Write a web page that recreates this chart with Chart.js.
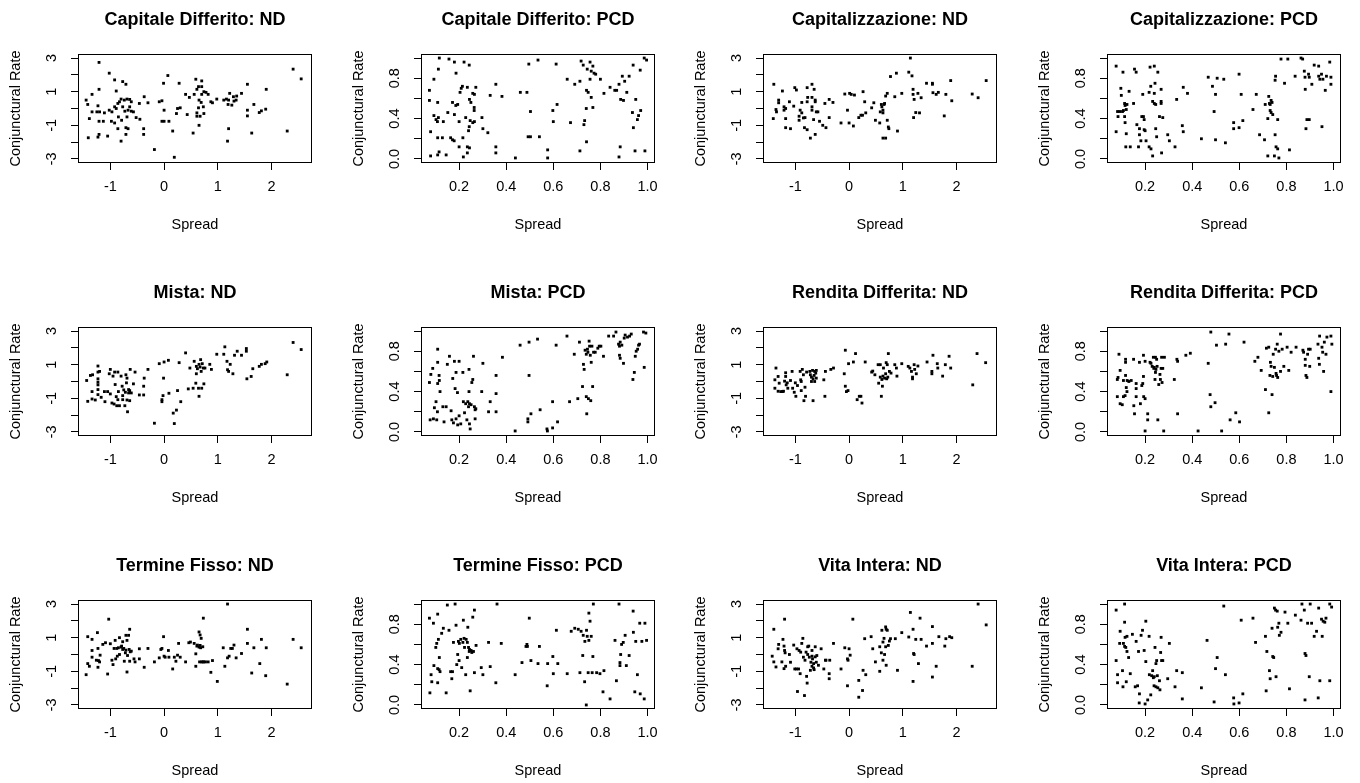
<!DOCTYPE html>
<html>
<head>
<meta charset="utf-8">
<script src="https://cdn.jsdelivr.net/npm/chart.js@4.4.1/dist/chart.umd.min.js"></script>
<style>
html, body { margin: 0; padding: 0; background: #fff; overflow: hidden; }
body { width: 1360px; height: 783px; position: relative; }
canvas { position: absolute; }
</style>
</head>
<body>
<script>
// panel titles, row by row
const titles = [
    'Capitale Differito: ND', 'Capitale Differito: PCD', 'Capitalizzazione: ND', 'Capitalizzazione: PCD',
    'Mista: ND', 'Mista: PCD', 'Rendita Differita: ND', 'Rendita Differita: PCD',
    'Termine Fisso: ND', 'Termine Fisso: PCD', 'Vita Intera: ND', 'Vita Intera: PCD'
];

// axis ranges (before R's 4% extension) and tick values
const ndXRange = [-1.44, 2.59];
const ndYRange = [-3, 3];
const pcdXRange = [0.075, 0.995];
const pcdYRange = [0, 1];
const ndXTicks = [-1, 0, 1, 2];
const ndYTicks = [-3, -2, -1, 0, 1, 2, 3];
const pcdXTicks = [0.2, 0.4, 0.6, 0.8, 1.0];
const pcdYTicks = [0, 0.2, 0.4, 0.6, 0.8, 1.0];

// [spread, conjunctural rate]
const capDiffND = [[-1.21,2.74],[-1.02,2.1],[-0.92,1.7],[-0.77,1.6],[-0.71,1.44],[-1.21,1.14],[-0.89,1.04],[-1.34,0.84],[-1.45,0.5],[-1.42,0.24],[-1.23,0.16],[-1.34,-0.2],[-1.25,-0.2],[-1.2,-0.2],[-1.39,-0.6],[-1.21,-0.76],[-1.13,-0.76],[-1.41,-1.74],[-1.23,-1.7],[-1.21,-1.54],[-1.05,-1.64],[-1.11,-0.26],[-1.02,-0.1],[-0.97,-0.2],[-0.98,-0.76],[-0.92,-0.86],[-0.86,-1.2],[-0.92,0.1],[-0.89,0],[-0.86,0.3],[-0.83,0.4],[-0.8,0.56],[-0.74,0.5],[-0.69,0.56],[-0.64,0.54],[-0.61,0.4],[-0.77,0.1],[-0.73,-0.16],[-0.67,-0.1],[-0.64,0.1],[-0.61,-0.16],[-0.57,-0.2],[-0.69,-0.5],[-0.79,-0.7],[-0.71,-1.14],[-0.67,-1.2],[-0.8,-1.94],[-0.71,-1.54],[-0.85,-0.5],[-0.52,-0.54],[-0.45,-0.64],[-0.46,0.3],[-0.38,-1.2],[-0.38,-1.54],[-0.37,0.7],[-0.3,0.34],[-0.18,-2.44],[-0.09,0.4],[-0.04,0.46],[-0.01,1.5],[0,-0.1],[-0.04,-0.76],[0,-0.76],[0.07,1.96],[0.09,-0.76],[0.16,-1.34],[0.19,-2.9],[0.23,-0.3],[0.25,0],[0.3,0.04],[0.28,1.5],[0.4,0.84],[0.43,-0.36],[0.47,0.66],[0.54,-1.46],[0.56,0.84],[0.59,1.74],[0.61,1.14],[0.64,1.3],[0.65,0.5],[0.69,0.36],[0.64,0.04],[0.61,-0.26],[0.61,-0.46],[0.67,-0.46],[0.65,-1.0],[0.7,1.64],[0.7,1.3],[0.7,0.84],[0.74,1.0],[0.78,0.96],[0.73,0.1],[0.74,-0.3],[0.82,0.84],[0.87,0.4],[0.9,0.34],[0.98,0.56],[1.11,0.5],[1.16,0.56],[1.19,0.24],[1.22,0.9],[1.2,0.5],[1.26,0.2],[1.29,0.7],[1.3,0.44],[1.34,0.5],[1.35,0.74],[1.44,0.9],[1.2,-1.2],[1.18,-1.94],[1.55,1.44],[1.55,-0.1],[1.55,-0.44],[1.63,-1.46],[1.67,0.24],[1.77,-0.24],[1.81,-0.14],[1.89,-0.04],[1.9,1.14],[2.29,-1.34],[2.4,2.34],[2.55,1.76]];

const capDiffPCD = [[0.116,1.0],[0.157,0.99],[0.18,0.96],[0.221,0.96],[0.243,0.93],[0.112,0.89],[0.187,0.85],[0.093,0.79],[0.074,0.68],[0.074,0.58],[0.109,0.56],[0.172,0.56],[0.186,0.53],[0.194,0.54],[0.209,0.7],[0.214,0.72],[0.204,0.66],[0.235,0.71],[0.244,0.59],[0.25,0.56],[0.258,0.65],[0.265,0.64],[0.271,0.71],[0.264,0.51],[0.264,0.48],[0.093,0.43],[0.102,0.39],[0.112,0.41],[0.108,0.37],[0.133,0.37],[0.152,0.46],[0.18,0.44],[0.2,0.37],[0.228,0.41],[0.247,0.38],[0.258,0.36],[0.265,0.37],[0.243,0.32],[0.24,0.28],[0.297,0.41],[0.301,0.3],[0.322,0.26],[0.332,0.63],[0.356,0.74],[0.382,0.62],[0.079,0.27],[0.109,0.21],[0.129,0.21],[0.164,0.21],[0.172,0.19],[0.179,0.18],[0.2,0.12],[0.216,0.21],[0.235,0.12],[0.244,0.11],[0.079,0.03],[0.109,0.04],[0.115,0.07],[0.145,0.04],[0.218,0.02],[0.235,0.06],[0.356,0.12],[0.356,0.06],[0.439,0.01],[0.46,0.66],[0.488,0.66],[0.496,0.94],[0.535,0.98],[0.503,0.47],[0.493,0.22],[0.503,0.22],[0.541,0.22],[0.576,0.09],[0.576,0.01],[0.598,0.48],[0.6,0.37],[0.616,0.54],[0.612,0.94],[0.659,0.79],[0.673,0.36],[0.691,0.74],[0.713,0.08],[0.718,0.97],[0.727,0.93],[0.713,0.77],[0.733,0.38],[0.73,0.34],[0.74,0.5],[0.741,0.17],[0.741,0.68],[0.748,0.66],[0.744,0.89],[0.756,0.96],[0.761,0.87],[0.768,0.92],[0.756,0.79],[0.773,0.85],[0.78,0.84],[0.761,0.61],[0.768,0.51],[0.8,0.79],[0.815,0.65],[0.841,0.71],[0.861,0.68],[0.869,0.68],[0.879,0.74],[0.893,0.82],[0.886,0.59],[0.898,0.58],[0.884,0.12],[0.879,0.02],[0.903,0.77],[0.912,0.66],[0.922,0.82],[0.939,0.93],[0.936,0.46],[0.94,0.31],[0.947,0.08],[0.95,0.59],[0.957,0.39],[0.962,0.43],[0.969,0.88],[0.971,0.48],[0.986,1.0],[0.996,0.98],[0.989,0.08]];

const capitND = [[-1.4,1.44],[-1.41,-0.6],[-1.36,-0.06],[-1.35,-0.2],[-1.31,0.5],[-1.31,0.34],[-1.24,1.04],[-1.21,0.1],[-1.21,-0.1],[-1.18,0],[-1.18,-0.6],[-1.18,-1.14],[-1.09,-1.2],[-1.11,0.4],[-1.03,0.14],[-1.01,1.24],[-0.98,1.1],[-0.93,-0.46],[-0.93,-0.7],[-0.91,-0.1],[-0.88,-0.26],[-0.85,-0.56],[-0.82,-0.54],[-0.88,0.36],[-0.78,1.24],[-0.77,0.66],[-0.78,0.4],[-0.83,-1.14],[-0.78,-1.26],[-0.72,-1.76],[-0.69,1.44],[-0.69,0.66],[-0.69,0.1],[-0.69,-0.1],[-0.66,-0.66],[-0.65,1.14],[-0.63,0.5],[-0.63,0.4],[-0.61,-0.2],[-0.58,-0.2],[-0.63,-1.54],[-0.55,-0.76],[-0.49,-1.0],[-0.45,0.3],[-0.43,-1.14],[-0.37,0.54],[-0.37,-0.54],[-0.3,0.36],[-0.15,-0.86],[-0.08,0.86],[-0.03,-0.1],[0,-0.86],[0.01,0.9],[0.04,0.84],[0.08,-1.04],[0.1,0.8],[0.26,1.0],[0.18,-0.54],[0.22,-0.4],[0.25,-0.4],[0.29,0.4],[0.31,-0.26],[0.42,0.04],[0.46,0.34],[0.49,-0.7],[0.57,-0.86],[0.58,-0.2],[0.6,0.24],[0.61,0.1],[0.63,-0.1],[0.63,-0.26],[0.65,0.24],[0.66,0.3],[0.63,-1.76],[0.68,-1.76],[0.68,0.74],[0.71,0.9],[0.71,-0.7],[0.73,-1.1],[0.74,-1.2],[0.77,1.9],[0.85,0.7],[0.88,2.1],[0.9,-1.34],[0.98,0.9],[1.11,2.16],[1.14,3.0],[1.17,1.94],[1.19,1.14],[1.19,0.84],[1.2,-0.54],[1.21,0.54],[1.24,-0.24],[1.28,0.9],[1.31,-0.26],[1.34,0.64],[1.44,1.5],[1.55,1.5],[1.55,1.44],[1.56,0.94],[1.62,0.84],[1.66,0.96],[1.77,-0.44],[1.8,0.84],[1.89,1.66],[1.91,0.46],[2.29,0.86],[2.4,0.64],[2.55,1.66]];

const capitPCD = [[0.077,0.92],[0.077,0.27],[0.083,0.47],[0.085,0.42],[0.092,0.47],[0.097,0.7],[0.099,0.63],[0.104,0.47],[0.106,0.86],[0.108,0.48],[0.113,0.55],[0.115,0.53],[0.113,0.42],[0.115,0.36],[0.12,0.49],[0.12,0.25],[0.118,0.12],[0.123,0.54],[0.132,0.67],[0.137,0.12],[0.151,0.55],[0.155,0.89],[0.162,0.86],[0.165,0.34],[0.172,0.12],[0.176,0.24],[0.176,0.3],[0.182,0.18],[0.186,0.42],[0.19,0.64],[0.193,0.42],[0.196,0.39],[0.196,0.29],[0.2,0.28],[0.204,0.18],[0.217,0.66],[0.217,0.12],[0.221,0.91],[0.224,0.72],[0.225,0.1],[0.232,0.03],[0.232,0.57],[0.239,0.92],[0.239,0.65],[0.239,0.55],[0.242,0.75],[0.245,0.54],[0.245,0.3],[0.249,0.22],[0.254,0.86],[0.261,0.42],[0.268,0.57],[0.268,0.55],[0.268,0.69],[0.27,0.06],[0.275,0.41],[0.296,0.24],[0.303,0.18],[0.327,0.12],[0.334,0.59],[0.358,0.33],[0.362,0.27],[0.362,0.71],[0.38,0.65],[0.439,0.2],[0.468,0.81],[0.486,0.72],[0.493,0.47],[0.499,0.19],[0.499,0.64],[0.506,0.8],[0.534,0.79],[0.541,0.16],[0.576,0.36],[0.576,0.3],[0.599,0.31],[0.599,0.84],[0.608,0.64],[0.615,0.38],[0.658,0.49],[0.672,0.64],[0.686,0.24],[0.707,0.19],[0.71,0.54],[0.721,0.4],[0.721,0.03],[0.725,0.62],[0.728,0.55],[0.731,0.48],[0.731,0.54],[0.735,0.46],[0.735,0.58],[0.739,0.56],[0.742,0.44],[0.749,0.03],[0.752,0.78],[0.752,0.24],[0.754,0.82],[0.756,0.12],[0.763,0.39],[0.763,0.1],[0.768,0.01],[0.777,0.99],[0.792,0.75],[0.806,0.99],[0.813,0.09],[0.837,0.82],[0.862,1.0],[0.869,0.99],[0.876,0.87],[0.879,0.81],[0.88,0.69],[0.883,0.3],[0.887,0.39],[0.894,0.84],[0.897,0.39],[0.897,0.81],[0.908,0.74],[0.918,0.93],[0.937,0.92],[0.937,0.82],[0.942,0.79],[0.949,0.84],[0.951,0.32],[0.955,0.79],[0.965,0.68],[0.97,0.82],[0.984,0.96],[0.989,0.74],[0.989,0.81]];

const mistaND = [[-1.44,0.06],[-1.42,-1.18],[-1.37,0.36],[-1.34,-0.6],[-1.34,-1.04],[-1.33,0.4],[-1.28,-1.1],[-1.23,0.92],[-1.23,0.56],[-1.23,0.16],[-1.23,-0.04],[-1.23,-0.2],[-1.23,-0.48],[-1.23,-0.78],[-1.2,0.6],[-1.17,-0.94],[-1.11,-0.6],[-1.1,-1.2],[-1.05,-0.6],[-1.02,0.46],[-1.0,0.72],[-1.0,-0.74],[-0.97,-1.28],[-0.95,0.32],[-0.93,-1.34],[-0.92,0.56],[-0.91,-0.18],[-0.89,-0.9],[-0.88,-1.44],[-0.86,0.56],[-0.86,-1.08],[-0.85,-0.6],[-0.83,-1.44],[-0.8,0.32],[-0.78,-0.28],[-0.77,-1.08],[-0.77,-0.84],[-0.75,-0.5],[-0.73,-1.44],[-0.72,-0.64],[-0.71,0.4],[-0.69,0.2],[-0.7,-0.08],[-0.69,-1.1],[-0.68,-1.8],[-0.66,-0.48],[-0.66,-0.68],[-0.64,-0.54],[-0.63,0.72],[-0.64,-1.14],[-0.61,-0.68],[-0.57,-0.14],[-0.54,0.56],[-0.46,-0.8],[-0.38,-0.8],[-0.38,-0.28],[-0.37,0.2],[-0.3,0.72],[-0.18,-2.48],[-0.09,1.06],[-0.04,-1.08],[-0.04,-1.2],[-0.02,-0.84],[-0.01,0.2],[0,1.16],[0.08,1.26],[0.09,-0.7],[0.17,-1.88],[0.19,-2.5],[0.23,-1.7],[0.25,-0.54],[0.28,1.12],[0.31,-1.2],[0.4,1.7],[0.45,-0.44],[0.48,0.8],[0.54,-0.4],[0.56,1.2],[0.59,-0.1],[0.6,0.46],[0.6,0.9],[0.62,0.76],[0.64,-0.4],[0.65,-0.88],[0.65,1.02],[0.67,0.86],[0.68,1.3],[0.69,0.6],[0.7,-0.4],[0.71,1.06],[0.73,0.8],[0.74,-0.14],[0.76,0.8],[0.85,1.02],[0.88,0.72],[0.98,1.62],[1.11,1.62],[1.13,2.06],[1.17,1.2],[1.18,0.7],[1.2,0.6],[1.23,1.02],[1.28,0.46],[1.31,1.56],[1.36,1.8],[1.44,1.56],[1.53,1.96],[1.53,1.8],[1.54,0.16],[1.62,0.3],[1.65,0.76],[1.77,0.9],[1.81,1.02],[1.88,1.06],[1.91,1.16],[2.29,0.4],[2.4,2.32],[2.55,1.9]];

const mistaPCD = [[0.074,0.49],[0.08,0.57],[0.077,0.12],[0.088,0.63],[0.091,0.13],[0.095,0.24],[0.102,0.3],[0.105,0.12],[0.108,0.2],[0.109,0.82],[0.109,0.69],[0.109,0.48],[0.115,0.56],[0.116,0.51],[0.119,0.4],[0.131,0.25],[0.136,0.1],[0.145,0.25],[0.15,0.67],[0.159,0.75],[0.166,0.21],[0.169,0.12],[0.173,0.53],[0.176,0.09],[0.18,0.7],[0.183,0.43],[0.187,0.59],[0.187,0.13],[0.193,0.39],[0.194,0.07],[0.2,0.7],[0.2,0.16],[0.207,0.08],[0.216,0.59],[0.218,0.3],[0.223,0.19],[0.228,0.28],[0.233,0.12],[0.237,0.3],[0.24,0.25],[0.242,0.62],[0.242,0.4],[0.244,0.28],[0.244,0.08],[0.247,0.03],[0.251,0.27],[0.254,0.49],[0.258,0.52],[0.261,0.75],[0.265,0.25],[0.268,0.22],[0.268,0.13],[0.271,0.23],[0.296,0.4],[0.301,0.68],[0.325,0.2],[0.332,0.3],[0.357,0.56],[0.357,0.38],[0.357,0.2],[0.384,0.74],[0.438,0.01],[0.459,0.86],[0.492,0.13],[0.492,0.1],[0.497,0.89],[0.497,0.56],[0.505,0.18],[0.533,0.92],[0.544,0.22],[0.573,0.03],[0.575,0.01],[0.597,0.3],[0.597,0.04],[0.612,0.86],[0.618,0.1],[0.658,0.95],[0.669,0.3],[0.689,0.77],[0.704,0.33],[0.711,0.89],[0.724,0.45],[0.728,0.67],[0.731,0.62],[0.735,0.81],[0.74,0.77],[0.74,0.35],[0.742,0.18],[0.745,0.82],[0.747,0.79],[0.749,0.33],[0.752,0.9],[0.754,0.85],[0.757,0.76],[0.759,0.31],[0.761,0.69],[0.764,0.85],[0.767,0.45],[0.771,0.79],[0.778,0.79],[0.789,0.83],[0.795,0.85],[0.802,0.85],[0.813,0.75],[0.835,0.95],[0.856,0.95],[0.866,0.99],[0.877,0.87],[0.881,0.85],[0.884,0.89],[0.891,0.86],[0.881,0.76],[0.884,0.73],[0.898,0.68],[0.901,0.93],[0.905,0.96],[0.915,0.94],[0.924,0.95],[0.931,0.97],[0.938,0.52],[0.944,0.59],[0.948,0.75],[0.952,0.8],[0.958,0.82],[0.962,0.86],[0.966,0.87],[0.983,0.99],[0.986,0.64],[0.993,0.98]];

const renditaND = [[-1.38,0.1],[-1.38,-0.4],[-1.36,0.8],[-1.32,0.3],[-1.32,-0.58],[-1.3,-0.1],[-1.27,-0.6],[-1.24,-0.6],[-1.22,-0.58],[-1.2,0.02],[-1.18,0.52],[-1.18,0.3],[-1.17,-0.2],[-1.15,-0.08],[-1.14,-0.4],[-1.09,0.06],[-1.06,0.6],[-1.05,-0.4],[-1.02,-0.64],[-1.0,-0.08],[-0.99,-0.88],[-0.96,-0.24],[-0.91,0.6],[-0.9,0.1],[-0.89,0],[-0.89,-0.54],[-0.87,0.72],[-0.85,0.4],[-0.84,-1.14],[-0.82,-0.34],[-0.81,-0.88],[-0.79,0.56],[-0.73,0.6],[-0.72,0.4],[-0.7,0.26],[-0.7,0],[-0.68,0.66],[-0.67,-1.14],[-0.67,0.16],[-0.65,0.36],[-0.64,0.6],[-0.64,0],[-0.62,0.5],[-0.61,0.66],[-0.61,0.2],[-0.47,0.1],[-0.45,-0.88],[-0.44,0.6],[-0.34,0.72],[-0.29,0.8],[-0.09,0.46],[-0.07,1.86],[-0.07,-0.28],[-0.05,-0.6],[-0.02,-0.54],[-0.01,1.06],[0.08,1.16],[0.12,1.66],[0.15,-1.08],[0.19,-0.88],[0.22,-0.88],[0.24,-1.28],[0.3,1.16],[0.42,0.56],[0.44,0.62],[0.48,0.4],[0.54,1.0],[0.55,-0.1],[0.58,1.0],[0.58,0.26],[0.6,-0.88],[0.61,0.12],[0.62,-0.28],[0.63,0.32],[0.64,0.8],[0.66,0.2],[0.68,0.46],[0.69,1.12],[0.7,0.16],[0.71,1.0],[0.72,0.26],[0.73,1.66],[0.75,0.6],[0.78,0.5],[0.85,1.0],[0.88,0.8],[0.89,0.32],[0.98,1.06],[1.1,0.9],[1.13,0.8],[1.16,0.6],[1.18,0.26],[1.18,0.16],[1.21,1.0],[1.22,0.72],[1.25,0.46],[1.28,0.92],[1.45,1.16],[1.54,0.6],[1.54,0.46],[1.56,1.56],[1.64,1.06],[1.65,0.8],[1.74,0.32],[1.79,1.0],[1.86,1.5],[1.89,0.8],[2.3,-0.2],[2.38,1.66],[2.54,1.12]];

const renditaPCD = [[0.082,0.35],[0.082,0.52],[0.085,0.54],[0.089,0.77],[0.094,0.61],[0.094,0.28],[0.103,0.27],[0.108,0.51],[0.108,0.35],[0.115,0.36],[0.117,0.72],[0.117,0.69],[0.117,0.56],[0.12,0.44],[0.123,0.4],[0.124,0.51],[0.131,0.5],[0.141,0.51],[0.151,0.72],[0.152,0.26],[0.155,0.18],[0.162,0.48],[0.162,0.43],[0.162,0.35],[0.176,0.69],[0.18,0.28],[0.186,0.46],[0.19,0.48],[0.193,0.76],[0.193,0.55],[0.194,0.35],[0.2,0.7],[0.2,0.33],[0.2,0.01],[0.211,0.18],[0.211,0.12],[0.221,0.69],[0.225,0.68],[0.23,0.65],[0.235,0.74],[0.237,0.63],[0.239,0.64],[0.242,0.52],[0.244,0.74],[0.244,0.59],[0.246,0.62],[0.249,0.72],[0.251,0.65],[0.254,0.12],[0.258,0.47],[0.263,0.57],[0.265,0.52],[0.268,0.63],[0.27,0.74],[0.272,0.49],[0.275,0.63],[0.279,0.01],[0.282,0.74],[0.324,0.52],[0.335,0.72],[0.338,0.18],[0.338,0.7],[0.373,0.76],[0.392,0.78],[0.425,0.01],[0.468,0.68],[0.476,0.37],[0.479,0.99],[0.479,0.25],[0.497,0.29],[0.503,0.86],[0.525,0.01],[0.542,0.87],[0.556,0.97],[0.561,0.12],[0.585,0.19],[0.601,0.1],[0.62,0.89],[0.666,0.7],[0.679,0.74],[0.693,0.61],[0.711,0.42],[0.715,0.83],[0.725,0.84],[0.725,0.19],[0.73,0.56],[0.732,0.69],[0.735,0.65],[0.739,0.37],[0.742,0.55],[0.744,0.77],[0.749,0.64],[0.754,0.82],[0.756,0.58],[0.758,0.56],[0.761,0.87],[0.763,0.54],[0.768,0.8],[0.775,0.97],[0.775,0.6],[0.782,0.82],[0.789,0.65],[0.803,0.84],[0.81,0.61],[0.82,0.79],[0.841,0.84],[0.87,0.81],[0.873,0.79],[0.88,0.72],[0.88,0.66],[0.883,0.56],[0.887,0.54],[0.89,0.77],[0.894,0.82],[0.899,0.65],[0.901,0.82],[0.934,0.87],[0.937,0.73],[0.94,0.67],[0.941,0.95],[0.951,0.84],[0.954,0.79],[0.958,0.6],[0.961,0.89],[0.968,0.77],[0.972,0.94],[0.989,0.95],[0.989,0.4],[0.993,0.87]];

const termineND = [[-1.45,-1.2],[-1.42,1.06],[-1.42,-0.54],[-1.39,-0.7],[-1.34,0.9],[-1.34,0.24],[-1.34,-0.16],[-1.26,-0.34],[-1.24,1.3],[-1.23,0.36],[-1.23,-0.76],[-1.22,-0.36],[-1.2,-0.44],[-1.19,-0.04],[-1.14,0.6],[-1.09,0.7],[-1.05,-1.16],[-1.03,2.1],[-1.0,0.64],[-0.97,-0.34],[-0.95,-0.6],[-0.93,0.36],[-0.91,0.84],[-0.9,-0.26],[-0.88,0.36],[-0.87,-0.1],[-0.85,0.4],[-0.83,0],[-0.83,1.0],[-0.8,0.44],[-0.79,0.5],[-0.77,0.3],[-0.77,0.76],[-0.75,0.36],[-0.74,-0.4],[-0.72,0.1],[-0.71,1.14],[-0.71,0.26],[-0.69,0.84],[-0.69,-1.04],[-0.68,-0.06],[-0.66,1.14],[-0.65,0.3],[-0.64,1.5],[-0.63,0.16],[-0.61,0.2],[-0.64,-0.4],[-0.56,-0.26],[-0.54,-0.44],[-0.46,0.34],[-0.46,-0.26],[-0.37,-0.76],[-0.3,0.36],[-0.18,-0.44],[-0.09,-0.2],[-0.06,0.3],[-0.04,0.36],[-0.01,1.06],[0,-0.1],[0.02,-0.16],[0.08,0.24],[0.09,-0.16],[0.16,-0.86],[0.19,-0.16],[0.22,-0.4],[0.25,-0.04],[0.27,0.66],[0.3,-0.16],[0.4,-0.44],[0.46,0.7],[0.49,0.74],[0.56,0.66],[0.59,0.04],[0.59,-0.7],[0.61,0.5],[0.62,0.56],[0.65,1.34],[0.65,0.44],[0.66,-0.44],[0.67,1.16],[0.67,0.54],[0.68,0.4],[0.69,0.96],[0.7,-0.44],[0.72,0.46],[0.72,-0.44],[0.73,2.16],[0.74,-0.44],[0.77,-0.44],[0.82,-0.44],[0.87,-1.06],[0.9,-0.36],[0.99,-1.6],[1.1,0.4],[1.13,-0.7],[1.18,3.0],[1.18,-0.2],[1.21,-0.1],[1.24,0.36],[1.27,0.36],[1.3,0.56],[1.34,-0.2],[1.44,0.06],[1.55,1.5],[1.55,0.66],[1.63,-1.1],[1.67,0.4],[1.78,-0.54],[1.81,0.9],[1.89,-1.26],[1.9,0.4],[2.29,-1.76],[2.4,0.9],[2.55,0.4]];

const terminePCD = [[0.074,0.86],[0.076,0.12],[0.081,0.3],[0.084,0.23],[0.091,0.81],[0.093,0.39],[0.101,0.57],[0.105,0.61],[0.109,0.9],[0.109,0.36],[0.109,0.22],[0.112,0.65],[0.115,0.35],[0.116,0.47],[0.119,0.33],[0.126,0.71],[0.133,0.76],[0.145,0.12],[0.15,0.99],[0.157,0.74],[0.164,0.33],[0.169,0.26],[0.172,0.33],[0.176,0.62],[0.183,1.0],[0.187,0.79],[0.19,0.4],[0.194,0.5],[0.197,0.63],[0.2,0.44],[0.201,0.61],[0.207,0.65],[0.211,0.37],[0.216,0.62],[0.218,0.84],[0.221,0.66],[0.223,0.57],[0.228,0.3],[0.23,0.65],[0.235,0.62],[0.235,0.47],[0.237,0.77],[0.24,0.57],[0.243,0.53],[0.244,0.55],[0.247,0.14],[0.251,0.54],[0.254,0.52],[0.258,0.87],[0.261,0.53],[0.265,0.94],[0.265,0.32],[0.272,0.59],[0.294,0.37],[0.301,0.3],[0.325,0.62],[0.332,0.38],[0.356,0.22],[0.361,1.0],[0.379,0.61],[0.438,0.3],[0.467,0.42],[0.484,0.58],[0.488,0.6],[0.49,0.58],[0.498,0.86],[0.505,0.44],[0.535,0.41],[0.541,0.58],[0.574,0.19],[0.576,0.41],[0.598,0.48],[0.6,0.31],[0.613,0.74],[0.619,0.41],[0.659,0.31],[0.676,0.73],[0.691,0.76],[0.706,0.75],[0.713,0.32],[0.718,0.73],[0.725,0.49],[0.727,0.69],[0.733,0.23],[0.734,0.63],[0.74,0.0],[0.741,0.74],[0.744,0.68],[0.748,0.32],[0.751,0.91],[0.751,0.64],[0.756,0.83],[0.761,0.68],[0.765,0.32],[0.768,0.48],[0.77,1.0],[0.784,0.32],[0.798,0.31],[0.815,0.34],[0.811,0.13],[0.841,0.06],[0.868,0.24],[0.862,0.64],[0.879,1.0],[0.883,0.42],[0.883,0.39],[0.886,0.5],[0.89,0.6],[0.897,0.62],[0.905,0.69],[0.91,0.39],[0.922,0.49],[0.939,0.93],[0.94,0.72],[0.946,0.13],[0.95,0.63],[0.957,0.3],[0.969,0.11],[0.967,0.81],[0.976,0.63],[0.986,0.06],[0.989,0.81],[0.996,0.64]];

const vitaND = [[-1.43,-0.1],[-1.4,1.5],[-1.4,-0.44],[-1.36,-0.74],[-1.32,0.34],[-1.31,0.6],[-1.25,-0.44],[-1.23,0.9],[-1.21,-0.84],[-1.21,0.5],[-1.2,2.1],[-1.2,0.24],[-1.19,0.1],[-1.18,-0.7],[-1.11,0],[-1.09,-0.46],[-1.03,0.56],[-1.01,-0.86],[-0.98,-0.86],[-0.97,0.34],[-0.96,-2.2],[-0.94,-0.86],[-0.93,0.24],[-0.91,-1.14],[-0.9,0.14],[-0.88,0.66],[-0.86,0.96],[-0.85,-0.16],[-0.83,-2.44],[-0.82,-0.34],[-0.8,0.14],[-0.79,-1.3],[-0.78,-1.7],[-0.77,0.46],[-0.77,0],[-0.75,0.5],[-0.74,-0.16],[-0.72,-0.94],[-0.71,-0.46],[-0.69,0.24],[-0.69,-0.7],[-0.69,-0.1],[-0.68,-0.26],[-0.66,-0.8],[-0.66,-0.54],[-0.65,-0.9],[-0.63,0.46],[-0.63,-0.14],[-0.61,-0.46],[-0.6,-0.06],[-0.57,-0.64],[-0.52,0.34],[-0.47,-0.86],[-0.44,-0.34],[-0.43,-0.34],[-0.37,-1.14],[-0.37,-1.44],[-0.36,-0.34],[-0.29,0.66],[-0.15,-0.86],[-0.08,0.4],[-0.03,-1.86],[-0.03,-0.26],[-0.02,-0.34],[0,0.34],[0.02,-0.04],[0.07,2.1],[0.18,-1.54],[0.18,-2.54],[0.25,-2.14],[0.26,-0.94],[0.29,0.94],[0.31,-1.2],[0.41,1.06],[0.44,0.34],[0.49,-0.44],[0.57,0.46],[0.57,-1.0],[0.6,0.1],[0.61,1.44],[0.63,-0.34],[0.63,0.74],[0.65,0.96],[0.66,0],[0.68,1.64],[0.68,0.46],[0.69,-0.64],[0.69,1.5],[0.71,1.44],[0.73,0.54],[0.75,0.8],[0.77,0.94],[0.86,0.94],[0.9,-0.94],[0.98,1.3],[1.11,1.04],[1.14,2.5],[1.19,1.5],[1.2,0.06],[1.21,0],[1.19,-1.6],[1.24,0.9],[1.29,-0.54],[1.32,2.16],[1.34,0.9],[1.44,0.5],[1.55,1.66],[1.55,0.66],[1.55,-1.34],[1.62,-0.7],[1.67,1.06],[1.78,0.5],[1.8,0.94],[1.87,1.06],[1.91,1.0],[2.29,-0.7],[2.4,3.0],[2.55,1.76]];

const vitaPCD = [[0.077,0.94],[0.077,0.44],[0.083,0.3],[0.083,0.22],[0.092,0.61],[0.094,0.73],[0.104,0.34],[0.106,0.18],[0.108,0.61],[0.113,1.0],[0.113,0.82],[0.113,0.58],[0.115,0.67],[0.118,0.57],[0.12,0.23],[0.123,0.68],[0.123,0.53],[0.13,0.47],[0.137,0.31],[0.146,0.7],[0.158,0.18],[0.162,0.63],[0.168,0.19],[0.172,0.53],[0.176,0.11],[0.175,0.02],[0.183,0.69],[0.189,0.74],[0.196,0.54],[0.2,0.01],[0.203,0.83],[0.203,0.43],[0.211,0.05],[0.217,0.68],[0.218,0.3],[0.224,0.1],[0.228,0.29],[0.232,0.34],[0.235,0.27],[0.238,0.19],[0.239,0.28],[0.242,0.57],[0.246,0.18],[0.246,0.41],[0.249,0.44],[0.252,0.29],[0.254,0.17],[0.261,0.24],[0.263,0.15],[0.266,0.52],[0.268,0.67],[0.27,0.44],[0.275,0.44],[0.296,0.26],[0.303,0.61],[0.327,0.18],[0.334,0.34],[0.358,0.32],[0.358,0.06],[0.439,0.17],[0.463,0.64],[0.493,0.03],[0.499,0.36],[0.506,0.47],[0.534,0.98],[0.541,0.3],[0.576,0.07],[0.577,0.01],[0.599,0.02],[0.608,0.84],[0.615,0.11],[0.658,0.86],[0.669,0.62],[0.711,0.68],[0.714,0.14],[0.717,0.53],[0.728,0.34],[0.731,0.26],[0.739,0.76],[0.742,0.48],[0.746,0.47],[0.749,0.96],[0.754,0.94],[0.756,0.28],[0.761,0.93],[0.763,0.77],[0.768,0.81],[0.77,0.69],[0.777,0.72],[0.794,0.92],[0.806,0.81],[0.813,0.16],[0.838,0.89],[0.862,0.84],[0.866,1.0],[0.876,0.94],[0.879,0.51],[0.883,0.49],[0.879,0.05],[0.89,0.81],[0.897,0.28],[0.901,1.0],[0.907,0.81],[0.918,0.68],[0.928,0.73],[0.935,0.07],[0.937,0.96],[0.942,0.24],[0.949,0.85],[0.952,0.68],[0.956,0.83],[0.963,0.82],[0.968,0.86],[0.984,0.24],[0.984,1.0],[0.992,0.97]];

const panels = [capDiffND, capDiffPCD, capitND, capitPCD, mistaND, mistaPCD,
                renditaND, renditaPCD, termineND, terminePCD, vitaND, vitaPCD];

// page layout of the plot boxes
const boxLeft = [78, 421, 763, 1107];
const boxTop = [54, 327, 600];
const FAMILY = "'Liberation Sans', Arial, sans-serif";
const FS = 14.5;

function extend(r) {
    const d = (r[1] - r[0]) * 0.04;
    return [r[0] - d, r[1] + d];
}

// R style frame round the plot region
const framePlugin = {
    id: 'frame',
    afterDraw(chart) {
        const a = chart.chartArea;
        const ctx = chart.ctx;
        ctx.save();
        ctx.strokeStyle = '#000';
        ctx.lineWidth = 1;
        ctx.strokeRect(Math.round(a.left) + 0.5, Math.round(a.top) + 0.5,
            Math.round(a.right - a.left) - 1, Math.round(a.bottom - a.top) - 1);
        ctx.restore();
    }
};

function makeScale(range, tickVals, fmt, isX) {
    const lim = extend(range);
    const s = {
        type: 'linear',
        min: lim[0],
        max: lim[1],
        afterBuildTicks: scale => { scale.ticks = tickVals.map(v => ({ value: v })); },
        ticks: {
            autoSkip: false,
            color: '#000',
            font: { family: FAMILY, size: FS },
            callback: fmt
        },
        grid: { drawOnChartArea: false, drawTicks: true, tickLength: 7, color: '#000', lineWidth: 1 },
        border: { display: false },
        title: { display: true, color: '#000', font: { family: FAMILY, size: FS } }
    };
    if (isX) {
        s.afterFit = scale => { scale.height = 80; };
        s.ticks.maxRotation = 0;
        s.ticks.minRotation = 0;
        s.ticks.padding = 8;
        s.title.text = 'Spread';
        s.title.padding = { top: 0, bottom: 9.3 };
    } else {
        s.afterFit = scale => { scale.width = 78; };
        s.ticks.maxRotation = 90;
        s.ticks.minRotation = 90;
        s.ticks.crossAlign = 'center';
        s.title.text = 'Conjunctural Rate';
        s.title.padding = { top: 6.8, bottom: 0 };
    }
    return s;
}

const ndYFmt = v => (v % 2 !== 0 ? String(v) : '');
const ndXFmt = v => String(v);
const pcdXFmt = v => v.toFixed(1);
const pcdYFmt = v => (Math.round(v * 10) % 4 === 0 ? v.toFixed(1) : '');

panels.forEach((pts, i) => {
    const col = i % 4, row = Math.floor(i / 4);
    const isND = col % 2 === 0;
    const canvas = document.createElement('canvas');
    canvas.width = 340;
    canvas.height = 262;
    canvas.style.left = (boxLeft[col] - 78) + 'px';
    canvas.style.top = (boxTop[row] - 54) + 'px';
    document.body.appendChild(canvas);

    const xScale = isND ? makeScale(ndXRange, ndXTicks, ndXFmt, true) : makeScale(pcdXRange, pcdXTicks, pcdXFmt, true);
    const yScale = isND ? makeScale(ndYRange, ndYTicks, ndYFmt, false) : makeScale(pcdYRange, pcdYTicks, pcdYFmt, false);
    // centre the rotated y labels the same way on both kinds of axis
    yScale.ticks.padding = isND ? 12.5 : 8.9;

    new Chart(canvas, {
        type: 'scatter',
        data: {
            datasets: [{
                data: pts.map(p => ({ x: p[0], y: p[1] })),
                pointStyle: 'rect',
                pointRadius: 2,
                pointBorderWidth: 0,
                pointBackgroundColor: '#000',
                backgroundColor: '#000',
                clip: false
            }]
        },
        options: {
            responsive: false,
            animation: false,
            events: [],
            layout: { padding: { left: 0, top: 0, right: 28, bottom: 19 } },
            scales: { x: xScale, y: yScale },
            plugins: {
                legend: { display: false },
                tooltip: { enabled: false },
                title: {
                    display: true,
                    text: titles[i],
                    color: '#000',
                    fullSize: false,
                    font: { family: FAMILY, size: 18, weight: 'bold' },
                    padding: { top: 9.4, bottom: 23 }
                }
            }
        },
        plugins: [framePlugin]
    });
});
</script>
</body>
</html>
